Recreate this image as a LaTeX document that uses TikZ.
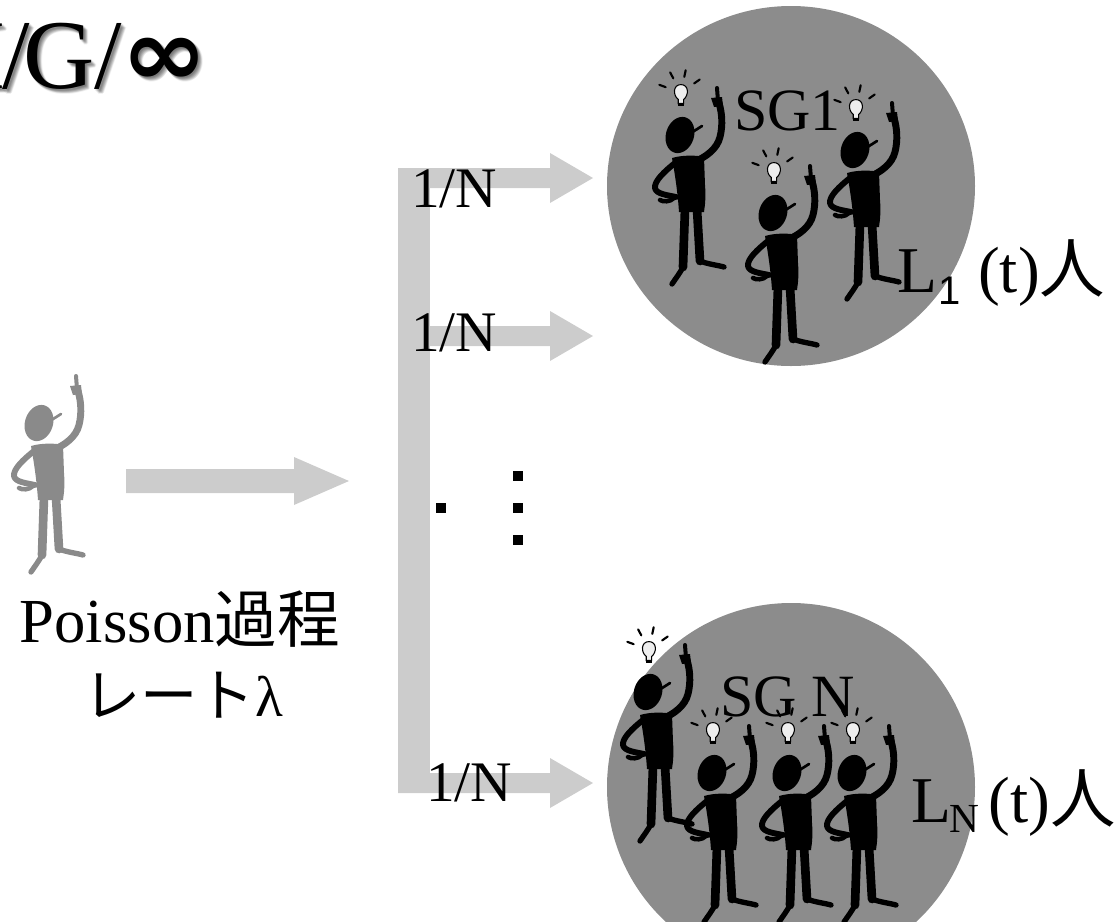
\documentclass[tikz,border=0pt]{standalone}
\usepackage{fontspec}
\setmainfont{Liberation Serif}
\newfontfamily\jpfont{Noto Sans CJK JP}
\newfontfamily\arialfont{Liberation Sans}
\newfontfamily\symfont{DejaVu Sans}
\definecolor{arrowgrey}{HTML}{CCCCCC}
\definecolor{circlegrey}{HTML}{8C8C8C}
\definecolor{figgrey}{HTML}{8A8A8A}
\definecolor{bulbglass}{HTML}{EEEEEE}
\newcommand{\queuename}{M\kern-2pt/\kern-5pt G/{\symfont\bfseries\raisebox{2pt}{\scalebox{1.05}[0.95]{∞}}}}
\tikzset{
  % stick figure, origin at the centre of the head, y axis pointing down
  person/.pic={
    \fill[rotate=-18] (0,0) ellipse [x radius=14, y radius=18.5];
    \draw[line width=2pt, line cap=round] (11,-2) -- (22,-9);
    \fill (-8,23) .. controls (2,20) and (16,20) .. (24,22)
          -- (25,50) .. controls (26,62) and (25,70) .. (24,77)
          -- (-1,77) .. controls (-2,62) and (-4,45) .. (-8,23) -- cycle;
    \draw[line width=5.2pt, line cap=round, line join=round]
          (14,27) .. controls (26,22) and (37,14) .. (40,2)
          .. controls (43,-10) and (42,-22) .. (39,-32);
    \fill (31,-37) -- (42,-38) -- (43,-29) -- (34,-28) -- cycle;
    \draw[line width=3pt, line cap=round] (38,-34) -- (37,-47);
    \draw[line width=4.4pt, line cap=round, line join=round]
          (-5,28) .. controls (-15,36) and (-26,46) .. (-25,53)
          .. controls (-24,59) and (-13,60) .. (-4,62);
    \draw[line width=3.4pt, line cap=round]
          (-6,63) .. controls (-10,67) and (-17,67) .. (-20,65);
    \draw[line width=6.5pt, line cap=round] (5,74) -- (3,132);
    \draw[line width=4pt, line cap=round] (3,132) .. controls (0,138) and (-4,143) .. (-8,149);
    \draw[line width=6.5pt, line cap=round] (17,74) -- (20,126);
    \draw[line width=4pt, line cap=round] (20,126) .. controls (27,129) and (37,130) .. (44,132);
  },
  % light bulb with rays, origin at the centre of the glass
  bulb/.pic={
    \filldraw[fill=bulbglass, draw=black, line width=0.8pt]
      (-2,8) -- (-2,5) .. controls (-6,2) and (-6,-6) .. (0,-6)
      .. controls (6,-6) and (6,2) .. (2,5) -- (2,8) -- cycle;
    \fill[black] (-2.2,8) rectangle (2.2,10);
    \foreach \a in {160,118,78,35}
      \draw[black, line width=1.6pt, line cap=round]
        ({12*cos(\a)},{-12*sin(\a)}) -- ({17*cos(\a)},{-17*sin(\a)});
  },
  thinker/.pic={
    \pic[black] {person};
    \pic[scale=1.35] at (1,-46) {bulb};
  },
  fraclabel/.style={font=\fontsize{43}{43}\selectfont, anchor=base west, inner sep=0pt},
  grouplabel/.style={font=\fontsize{45}{45}\selectfont, anchor=base west, inner sep=0pt},
  countlabel/.style={font=\fontsize{49}{49}\selectfont, anchor=base west, inner sep=0pt},
  titletext/.style={font=\fontsize{74}{74}\selectfont, anchor=base west, inner sep=0pt},
}
\begin{document}
\begin{tikzpicture}[x=0.75pt, y=-0.75pt]
\useasboundingbox (0,0) rectangle (1115,922);

% title with its soft shadow
\foreach \dx/\dy in {1/1,2/1,1/2,3/2,2/3,3/3,4/3,3/4,4/4,2/2,5/4,4/5}
  \node[titletext, text=black, opacity=0.06] at ({-83+\dx},{88+\dy}) {\queuename};
\node[titletext] (title) at (-83,88) {\queuename};

% server groups
\fill[circlegrey] (791,186) ellipse [x radius=184, y radius=180];
\fill[circlegrey] (791,787) ellipse [x radius=184, y radius=184];

% arriving customer
\pic[color=figgrey] at (39,423) {person};

% arrival stream
\fill[arrowgrey] (126,469) -- (294,469) -- (294,457) -- (349,481)
                 -- (294,505) -- (294,493) -- (126,493) -- cycle;

% splitting into the N groups
\fill[arrowgrey] (398,168) rectangle (430,793);
\fill[arrowgrey] (398,168) -- (550,168) -- (550,153) -- (593,178)
                 -- (550,203) -- (550,188) -- (398,188) -- cycle;
\fill[arrowgrey] (430,326) -- (550,326) -- (550,311) -- (593,336)
                 -- (550,361) -- (550,346) -- (430,346) -- cycle;
\fill[arrowgrey] (398,773) -- (550,773) -- (550,758) -- (593,783)
                 -- (550,808) -- (550,793) -- (398,793) -- cycle;

\node[fraclabel] (frac1) at (411,207) {1/N};
\node[fraclabel] (frac2) at (411,351) {1/N};
\node[fraclabel] (frac3) at (426,801) {1/N};

% omitted branches
\fill (436,503) rectangle (446,513);
\fill (513,471) rectangle (523,481);
\fill (513,503) rectangle (523,513);
\fill (513,535) rectangle (523,545);

% members of group 1
\pic[scale=0.92] at (680,135) {thinker};
\pic[scale=0.92] at (773,213) {thinker};
\pic[scale=0.92] at (855,150) {thinker};

% members of group N
\pic[scale=0.92] at (648,692) {thinker};
\pic[scale=0.92] at (712,773) {thinker};
\pic[scale=0.92] at (787,773) {thinker};
\pic[scale=0.92] at (852,773) {thinker};

\node[grouplabel] (sg1) at (734,130) {SG1};
\node[grouplabel] (sgn) at (720,716) {SG N};

\node[countlabel] (l1) at (897,292)
  {L\kern1pt{\arialfont\fontsize{30}{30}\selectfont\raisebox{-9pt}{1}}\kern13pt(t){\jpfont 人}};
\node[countlabel] (ln) at (911,822)
  {L\kern-1.5pt{\fontsize{31}{31}\selectfont\raisebox{-7.5pt}{N}}\kern7pt(t){\jpfont 人}};

% arrival process description
\node[anchor=base, inner sep=0pt, font=\fontsize{47}{47}\selectfont] (poisson) at (180,642)
  {Poisson{\jpfont 過程}};
\node[anchor=base, inner sep=0pt, font=\fontsize{43}{43}\selectfont] (rate) at (183,716)
  {{\jpfont レート}λ};
\end{tikzpicture}
\end{document}
